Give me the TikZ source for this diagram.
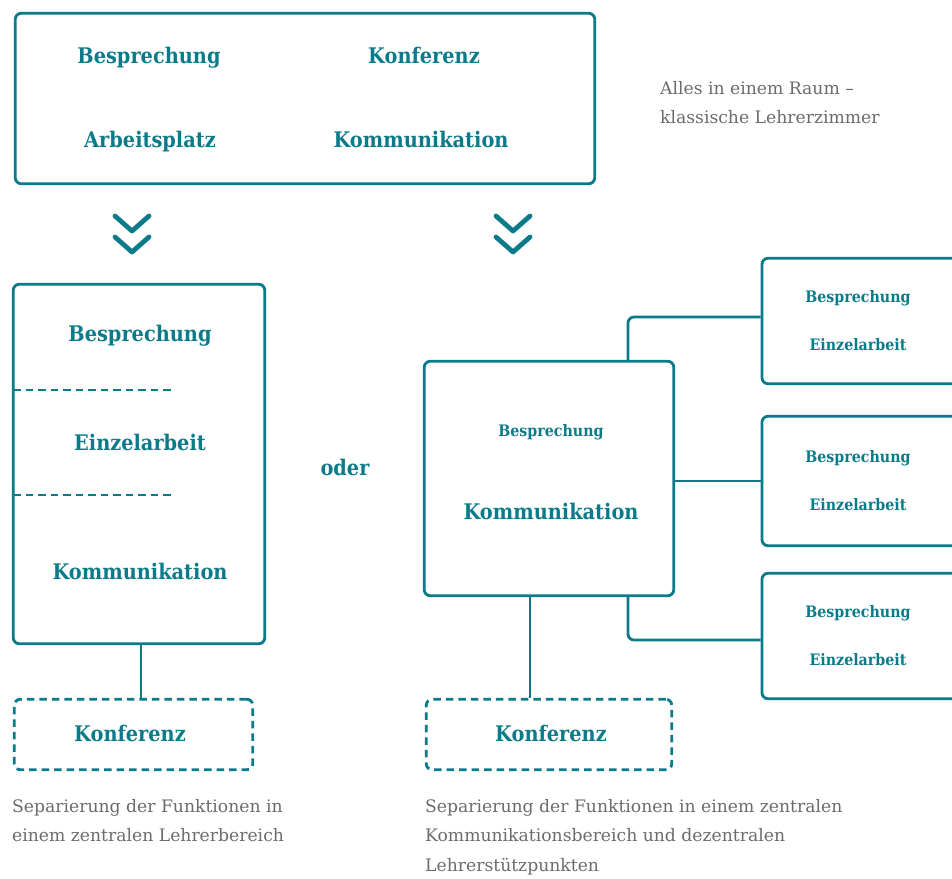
\documentclass[tikz,border=0pt]{standalone}
\usepackage{fontspec}
\setmainfont{DejaVu Serif}
\newfontfamily\schmal[FakeStretch=0.9]{DejaVu Serif}
\usetikzlibrary{positioning}

\definecolor{petrol}{HTML}{0B7B8A}
\definecolor{grautext}{HTML}{6B6B6B}

\tikzset{
    raum/.style={draw=petrol, line width=2.8pt, rounded corners=6pt, inner sep=0pt},
    konfraum/.style={raum, dash pattern=on 7.5pt off 5pt},
    trenn/.style={draw=petrol, line width=2.8pt, dash pattern=on 7.5pt off 5pt},
    link/.style={draw=petrol, line width=2.8pt, rounded corners=6pt},
    pfeil/.style={draw=petrol, line width=4.8pt, line cap=round, line join=round},
    gross/.style={text=petrol, font=\schmal\bfseries\fontsize{21.5}{24}\selectfont, anchor=base},
    klein/.style={text=petrol, font=\schmal\bfseries\fontsize{15.8}{18}\selectfont, anchor=base},
    notiz/.style={text=grautext, font=\fontsize{17.2}{29.5}\selectfont, align=left, anchor=north west, inner sep=0pt}
}

\begin{document}
\begin{tikzpicture}[x=1pt, y=-1pt]
    \clip (0,0) rectangle (952,878);

    % Ausgangslage: alles in einem Raum
    \node[raum, minimum width=579.5pt, minimum height=170.5pt] (alle) at (305,98.5) {};
    \node[gross] (a1) at (149,63) {Besprechung};
    \node[gross] (a2) at (424,63) {Konferenz};
    \node[gross] (a3) at (150,147) {Arbeitsplatz};
    \node[gross] (a4) at (421,147) {Kommunikation};
    \node[notiz] (alletxt) at (660,81) {Alles in einem Raum --\\klassische Lehrerzimmer};

    % Doppelpfeile nach unten
    \foreach \x in {132, 513} {
        \draw[pfeil] (\x-17,216) -- (\x,231) -- (\x+17,216);
        \draw[pfeil] (\x-17,237) -- (\x,252) -- (\x+17,237);
    }

    % Variante 1: zentraler Lehrerbereich
    \node[raum, minimum width=251.5pt, minimum height=359.5pt] (links) at (139,464) {};
    \node[gross] (l1) at (140,341) {Besprechung};
    \draw[trenn] (13,390) -- (172,390);
    \node[gross] (l2) at (140,450) {Einzelarbeit};
    \draw[trenn] (13,495) -- (172,495);
    \node[gross] (l3) at (140,579) {Kommunikation};

    \node[konfraum, minimum width=238.5pt, minimum height=70.5pt] (konf1) at (133.5,734.5) {};
    \node[gross] (k1) at (130,741) {Konferenz};
    \draw[link] ([xshift=2pt]links.south) -- ([xshift=2pt]links.south |- konf1.north);

    \node[notiz] (txt1) at (12,799) {Separierung der Funktionen in\\einem zentralen Lehrerbereich};

    \node[gross] (oder) at (345,475) {oder};

    % Variante 2: Kommunikationsbereich mit Stuetzpunkten
    \node[raum, minimum width=249.5pt, minimum height=234.5pt] (zentral) at (549,478.5) {};
    \node[klein] (z1) at (551,436) {Besprechung};
    \node[gross] (z2) at (551,519) {Kommunikation};

    \foreach \i/\y/\h in {1/321/125.5, 2/481/129.5, 3/636/125.5} {
        \node[raum, minimum width=247pt, minimum height=\h pt] (sp\i) at (885.5,\y) {};
        \node[klein] (spb\i) at (858,\y-19) {Besprechung};
        \node[klein] (spe\i) at (858,\y+29) {Einzelarbeit};
    }

    \draw[link] ([xshift=79pt]zentral.north) |- ([yshift=4pt]sp1.west);
    \draw[link] (zentral.east |- sp2.west) -- (sp2.west);
    \draw[link] ([xshift=79pt]zentral.south) |- ([yshift=-4pt]sp3.west);

    \node[konfraum, minimum width=245.5pt, minimum height=70.5pt] (konf2) at (549,734.5) {};
    \node[gross] (k2) at (551,741) {Konferenz};
    \draw[link] ([xshift=-19pt]zentral.south) -- ([xshift=-19pt]zentral.south |- konf2.north);

    \node[notiz] (txt2) at (425,799) {Separierung der Funktionen in einem zentralen\\Kommunikationsbereich und dezentralen\\Lehrerstützpunkten};
\end{tikzpicture}
\end{document}
